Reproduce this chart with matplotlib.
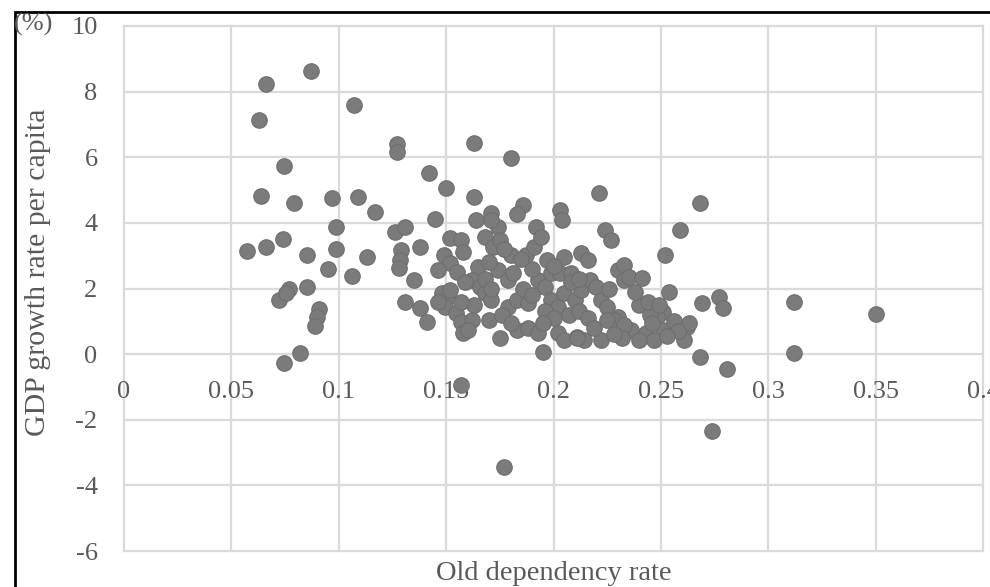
import matplotlib
matplotlib.use("Agg")
import matplotlib.pyplot as plt
from matplotlib.patches import Rectangle

# old dependency rate vs GDP growth rate per capita (%)
old_dep = [
    0.087, 0.066, 0.063, 0.0745, 0.064, 0.079, 0.0575, 0.066, 0.074, 0.085,
    0.085, 0.077, 0.072, 0.0755, 0.091, 0.090, 0.089, 0.082, 0.0745, 0.107,
    0.127, 0.127, 0.097, 0.109, 0.117, 0.0985, 0.0985, 0.113, 0.095, 0.106,
    0.126, 0.131, 0.129, 0.1287, 0.128, 0.138, 0.135, 0.131, 0.138, 0.141,
    0.142, 0.150, 0.163, 0.180, 0.163, 0.145, 0.164, 0.171, 0.186, 0.183,
    0.203, 0.204, 0.221, 0.192, 0.174, 0.152, 0.157, 0.149, 0.152, 0.146,
    0.148, 0.151, 0.1495, 0.1545, 0.157, 0.158, 0.162, 0.160, 0.168, 0.172,
    0.171, 0.175, 0.165, 0.162, 0.166, 0.168, 0.171, 0.170, 0.175, 0.179,
    0.183, 0.188, 0.183, 0.188, 0.174, 0.179, 0.181, 0.187, 0.191, 0.194,
    0.180, 0.177, 0.197, 0.205, 0.213, 0.216, 0.224, 0.227, 0.193, 0.196,
    0.199, 0.203, 0.208, 0.199, 0.202, 0.205, 0.210, 0.213, 0.217, 0.220,
    0.222, 0.225, 0.230, 0.233, 0.193, 0.195, 0.202, 0.205, 0.211, 0.214,
    0.222, 0.230, 0.233, 0.233, 0.235, 0.241, 0.254, 0.269, 0.240, 0.228,
    0.236, 0.243, 0.251, 0.262, 0.261, 0.268, 0.259, 0.268, 0.252, 0.312,
    0.350, 0.312, 0.277, 0.279, 0.281, 0.274, 0.263, 0.177, 0.211, 0.240,
    0.157, 0.248, 0.251, 0.247, 0.233, 0.225, 0.245, 0.256, 0.258, 0.146,
    0.152, 0.158, 0.155, 0.159, 0.168, 0.171, 0.186, 0.190, 0.196, 0.200,
    0.207, 0.212, 0.216, 0.219, 0.208, 0.212, 0.200, 0.190, 0.185, 0.170,
    0.163, 0.157, 0.176, 0.180, 0.195, 0.226, 0.238, 0.244, 0.249, 0.246,
    0.253, 0.232, 0.228,
]
gdp_growth = [
    8.63, 8.23, 7.13, 5.73, 4.82, 4.60, 3.15, 3.28, 3.50, 3.02,
    2.04, 2.00, 1.65, 1.85, 1.38, 1.13, 0.85, 0.03, -0.27, 7.59,
    6.40, 6.16, 4.76, 4.80, 4.33, 3.87, 3.20, 2.96, 2.59, 2.38,
    3.72, 3.87, 3.17, 2.87, 2.62, 3.26, 2.26, 1.59, 1.40, 0.98,
    5.52, 5.06, 6.43, 5.98, 4.79, 4.12, 4.08, 4.30, 4.54, 4.27,
    4.39, 4.08, 4.90, 3.87, 3.87, 3.54, 3.48, 3.02, 2.78, 2.56,
    1.86, 1.74, 1.43, 1.25, 0.98, 0.64, 1.04, 0.73, 3.57, 3.26,
    4.09, 3.48, 2.65, 2.26, 2.04, 1.86, 1.65, 1.04, 0.49, 1.43,
    1.65, 1.55, 0.73, 0.79, 2.56, 2.26, 2.47, 3.02, 3.26, 3.57,
    3.02, 3.20, 2.87, 2.96, 3.08, 2.87, 3.78, 3.48, 2.26, 2.04,
    2.47, 2.47, 2.47, 1.65, 1.43, 1.86, 1.65, 1.95, 2.26, 2.04,
    1.65, 1.43, 1.13, 0.82, 0.64, 0.06, 0.64, 0.43, 0.52, 0.43,
    0.43, 2.56, 2.26, 2.71, 2.35, 2.32, 1.89, 1.55, 1.49, 1.04,
    0.73, 0.64, 1.28, 0.82, 0.43, -0.09, 3.78, 4.60, 3.02, 1.59,
    1.22, 0.03, 1.74, 1.40, -0.46, -2.35, 0.95, -3.44, 0.49, 0.43,
    -0.95, 1.13, 0.73, 0.43, 0.88, 1.04, 1.20, 1.00, 0.70, 1.60,
    1.95, 3.10, 2.50, 2.20, 2.30, 2.00, 2.00, 1.80, 1.30, 1.10,
    1.20, 1.30, 1.10, 0.80, 2.20, 2.30, 2.70, 2.60, 2.90, 2.80,
    1.50, 1.60, 1.20, 0.95, 0.95, 2.00, 1.90, 1.60, 1.50, 0.95,
    0.55, 0.50, 0.60,
]

x_ticks = [0, 0.05, 0.1, 0.15, 0.2, 0.25, 0.3, 0.35, 0.4]
x_tick_labels = ["0", "0.05", "0.1", "0.15", "0.2", "0.25", "0.3", "0.35", "0.4"]
y_ticks = [-6, -4, -2, 0, 2, 4, 6, 8, 10]

plt.rcParams["font.family"] = ["Liberation Serif", "DejaVu Serif"]
plt.rcParams["axes.unicode_minus"] = False
text_color = "#595959"

fig = plt.figure(figsize=(9.9, 5.87), dpi=100)
ax = fig.add_axes([124 / 990, 1 - 551 / 587, (983 - 124) / 990, (551 - 26) / 587])

ax.scatter(old_dep, gdp_growth, s=125, color="#7b7b7b", edgecolors="#6e6e6e",
           linewidths=0.8, zorder=3)

ax.set_xlim(0, 0.4)
ax.set_ylim(-6, 10)
ax.set_xticks(x_ticks)
ax.set_xticklabels(x_tick_labels)
ax.set_yticks(y_ticks)
ax.grid(True, color="#dadada", linewidth=1.6, zorder=0)
ax.set_axisbelow(True)
for side in ["top", "right", "left"]:
    ax.spines[side].set_visible(False)
ax.spines["bottom"].set_position(("data", 0))
ax.spines["bottom"].set_visible(False)
ax.tick_params(axis="x", length=0, pad=19, labelsize=19, labelcolor=text_color)
ax.tick_params(axis="y", length=0, pad=19, labelsize=19, labelcolor=text_color)
for gl in ax.get_xgridlines() + ax.get_ygridlines():
    gl.set_clip_on(False)

fig.text(38 / 990, 1 - 272 / 587, "GDP growth rate per capita", rotation=90,
         ha="center", va="center", fontsize=21.5, color=text_color)
fig.text(14 / 990, 1 - 24 / 587, "(%)", ha="left", va="center",
         fontsize=19, color=text_color)
fig.text(554 / 990, 1 - 574 / 587, "Old dependency rate", ha="center",
         va="center", fontsize=20.5, color=text_color)

# frame around the picture (open on right and bottom, as in the scan)
fig.add_artist(Rectangle((15 / 990, -0.1), 1.2, 1 - 12 / 587 + 0.1,
                         transform=fig.transFigure, fill=False,
                         edgecolor="black", linewidth=2))

fig.savefig("out.png", dpi=100)
